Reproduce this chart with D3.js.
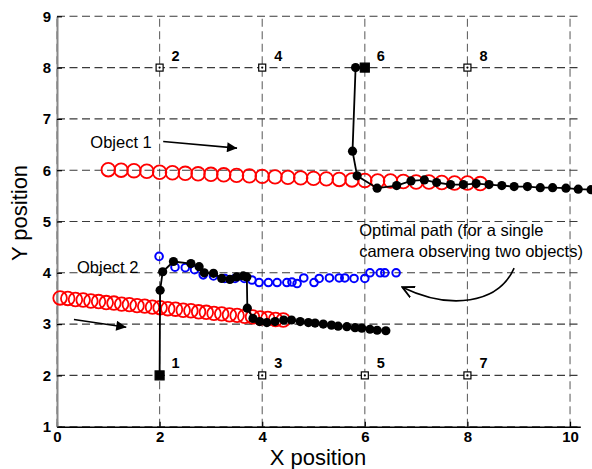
<!DOCTYPE html>
<html lang="en">

<head>
    <meta charset="UTF-8">
    <title>Camera paths</title>
    <style>
        body { margin: 0; background: #fff; }
        svg text { font-family: "Liberation Sans", Arial, sans-serif; }
        .tick text { font-weight: bold; font-size: 15px; fill: #000; }
    </style>
    <script src="https://d3js.org/d3.v7.min.js"></script>
</head>

<body>
    <script>
        // object 1 track (red, top)
        const obj1X = [1.0, 1.25, 1.5, 1.75, 2.0, 2.25, 2.5, 2.75, 3.0, 3.25, 3.5, 3.75, 4.0, 4.25, 4.5,
            4.75, 5.0, 5.25, 5.5, 5.75, 6.0, 6.25, 6.5, 6.75, 7.0, 7.25, 7.5, 7.75, 8.0, 8.25];
        const obj1Y = [6.01, 6.00, 5.99, 5.98, 5.96, 5.95, 5.94, 5.93, 5.92, 5.91, 5.90, 5.89, 5.88, 5.87, 5.86,
            5.85, 5.84, 5.83, 5.82, 5.81, 5.80, 5.79, 5.79, 5.78, 5.77, 5.77, 5.76, 5.75, 5.75, 5.74];

        // object 2 track (red, bottom)
        const obj2X = [0.06, 0.21, 0.36, 0.51, 0.66, 0.81, 0.96, 1.11, 1.26, 1.41, 1.56, 1.71, 1.86, 2.01, 2.16,
            2.31, 2.46, 2.61, 2.76, 2.91, 3.06, 3.21, 3.36, 3.51, 3.66, 3.81, 3.96, 4.11, 4.26, 4.41];
        const obj2Y = [3.51, 3.50, 3.48, 3.47, 3.45, 3.44, 3.42, 3.41, 3.39, 3.38, 3.36, 3.35, 3.33, 3.32, 3.30,
            3.29, 3.27, 3.26, 3.24, 3.23, 3.21, 3.20, 3.18, 3.17, 3.15, 3.14, 3.12, 3.11, 3.09, 3.08];

        // optimal path for one camera (blue)
        const optX = [1.99, 2.30, 2.50, 2.68, 2.85, 3.05, 3.27, 3.47, 3.65, 3.80, 3.94, 4.12, 4.29, 4.48,
            4.58, 4.68, 4.81, 5.01, 5.11, 5.31, 5.50, 5.61, 5.79, 6.00, 6.10, 6.30, 6.39, 6.61];
        const optY = [4.32, 4.11, 4.10, 4.06, 3.96, 3.94, 3.89, 3.89, 3.89, 3.86, 3.81, 3.81, 3.81, 3.81,
            3.82, 3.79, 3.90, 3.81, 3.89, 3.90, 3.90, 3.90, 3.89, 3.89, 4.00, 4.00, 4.00, 4.00];

        // path of camera 1 (black)
        const cam1X = [2.00, 2.01, 2.06, 2.27, 2.61, 2.77, 2.87, 3.05, 3.21, 3.37, 3.50, 3.63, 3.70, 3.71, 3.82,
            3.95, 4.09, 4.25, 4.42, 4.57, 4.74, 4.90, 5.03, 5.19, 5.35, 5.48, 5.65, 5.81, 5.94, 6.10, 6.24, 6.41];
        const cam1Y = [2.00, 3.66, 4.02, 4.22, 4.18, 4.12, 4.00, 3.99, 3.89, 3.87, 3.92, 3.94, 3.92, 3.31, 3.11,
            3.05, 3.03, 3.05, 3.08, 3.08, 3.05, 3.03, 3.02, 3.00, 2.98, 2.96, 2.95, 2.93, 2.92, 2.90, 2.88, 2.87];

        // path of camera 6 (black)
        const cam6X = [6.02, 5.82, 5.76, 5.85, 6.24, 6.62, 6.90, 7.16, 7.40, 7.67, 7.92, 8.17, 8.42, 8.67,
            8.91, 9.17, 9.42, 9.66, 9.92, 10.16, 10.41];
        const cam6Y = [8.00, 8.00, 6.37, 5.89, 5.65, 5.70, 5.79, 5.81, 5.76, 5.72, 5.72, 5.74, 5.72, 5.70,
            5.68, 5.68, 5.66, 5.66, 5.65, 5.63, 5.62];

        // camera positions
        const camIds = [1, 2, 3, 4, 5, 6, 7, 8];
        const camX = [2, 2, 4, 4, 6, 6, 8, 8];
        const camY = [2, 8, 2, 8, 2, 8, 2, 8];
        const activeCams = [1, 6];

        const xTicks = [0, 2, 4, 6, 8, 10];
        const yTicks = [1, 2, 3, 4, 5, 6, 7, 8, 9];

        const W = 592, H = 469;
        const pLeft = 57, pRight = 580.3, pTop = 16.3, pBottom = 426.7;

        const x = d3.scaleLinear().domain([0, 10.2]).range([pLeft, pRight]);
        const y = d3.scaleLinear().domain([1, 9]).range([pBottom, pTop]);

        const zip = (xs, ys) => xs.map((v, i) => [v, ys[i]]);

        const svg = d3.select('body').append('svg')
            .attr('width', W)
            .attr('height', H);

        const defs = svg.append('defs');
        defs.append('marker')
            .attr('id', 'solidHead')
            .attr('viewBox', '0 0 10 10')
            .attr('refX', 10).attr('refY', 5)
            .attr('markerWidth', 14).attr('markerHeight', 10)
            .attr('markerUnits', 'userSpaceOnUse')
            .attr('orient', 'auto')
            .append('path').attr('d', 'M0,0L10,5L0,10Z').attr('fill', '#000');
        defs.append('marker')
            .attr('id', 'openHead')
            .attr('viewBox', '0 0 10 10')
            .attr('refX', 9).attr('refY', 5)
            .attr('markerWidth', 13).attr('markerHeight', 13)
            .attr('markerUnits', 'userSpaceOnUse')
            .attr('orient', 'auto')
            .append('path').attr('d', 'M0,0.5L9,5L0,9.5')
            .attr('fill', 'none').attr('stroke', '#000').attr('stroke-width', 1.4);

        // grid
        const grid = svg.append('g').attr('stroke', '#3a3a3a').attr('stroke-width', 1.1)
            .attr('stroke-dasharray', '8,4.5');
        grid.selectAll('.gx').data(xTicks).enter().append('line')
            .attr('x1', d => x(d)).attr('x2', d => x(d))
            .attr('y1', pBottom).attr('y2', pTop)
            .attr('stroke', '#666');
        grid.selectAll('.gy').data(yTicks).enter().append('line')
            .attr('x1', pLeft).attr('x2', pRight)
            .attr('y1', d => y(d)).attr('y2', d => y(d));

        // axes
        const xAxis = d3.axisBottom(x).tickValues(xTicks).tickSizeInner(-5).tickSizeOuter(0).tickPadding(5);
        const yAxis = d3.axisLeft(y).tickValues(yTicks).tickSizeInner(-5).tickSizeOuter(0).tickPadding(6);

        const gx = svg.append('g').attr('transform', `translate(0,${pBottom})`).call(xAxis);
        gx.select('.domain').attr('stroke', '#000').attr('stroke-width', 1.4);
        const gy = svg.append('g').attr('transform', `translate(${pLeft},0)`).call(yAxis);
        gy.select('.domain').attr('stroke', '#888').attr('stroke-width', 2);
        svg.selectAll('.tick line').attr('stroke', '#000').attr('stroke-width', 1.2);

        // object tracks
        svg.append('g').selectAll('circle').data(zip(obj1X, obj1Y).concat(zip(obj2X, obj2Y)))
            .enter().append('circle')
            .attr('cx', d => x(d[0])).attr('cy', d => y(d[1])).attr('r', 6.8)
            .attr('fill', 'none').attr('stroke', '#ff0000').attr('stroke-width', 1.8);

        svg.append('g').selectAll('circle').data(zip(optX, optY))
            .enter().append('circle')
            .attr('cx', d => x(d[0])).attr('cy', d => y(d[1])).attr('r', 3.8)
            .attr('fill', 'none').attr('stroke', '#0000ff').attr('stroke-width', 2);

        // camera paths
        const line = d3.line().x(d => x(d[0])).y(d => y(d[1]));
        [zip(cam1X, cam1Y), zip(cam6X, cam6Y)].forEach(pts => {
            svg.append('path').attr('d', line(pts))
                .attr('fill', 'none').attr('stroke', '#000').attr('stroke-width', 1.8);
            svg.append('g').selectAll('circle').data(pts.slice(1))
                .enter().append('circle')
                .attr('cx', d => x(d[0])).attr('cy', d => y(d[1])).attr('r', 4.6)
                .attr('fill', '#000');
        });

        // cameras
        const cams = camIds.map((id, i) => ({ id, x: camX[i], y: camY[i], on: activeCams.includes(id) }));
        const cg = svg.append('g');
        cg.selectAll('rect').data(cams).enter().append('rect')
            .attr('x', d => x(d.x) - (d.on ? 4.5 : 3.5))
            .attr('y', d => y(d.y) - (d.on ? 4.5 : 3.5))
            .attr('width', d => d.on ? 9 : 7).attr('height', d => d.on ? 9 : 7)
            .attr('fill', d => d.on ? '#000' : '#fff')
            .attr('stroke', '#000').attr('stroke-width', 1.2);
        cg.selectAll('circle').data(cams.filter(d => !d.on)).enter().append('circle')
            .attr('cx', d => x(d.x)).attr('cy', d => y(d.y)).attr('r', 1.1).attr('fill', '#000');
        cg.selectAll('text').data(cams).enter().append('text')
            .attr('x', d => x(d.x) + 12).attr('y', d => y(d.y) - 7)
            .attr('font-size', 14.5).attr('font-weight', 'bold')
            .text(d => d.id);

        // annotations
        const note = svg.append('g').attr('font-size', 16.5).attr('fill', '#000');
        note.append('text').attr('x', x(0.65)).attr('y', y(6.43)).text('Object 1');
        note.append('text').attr('x', x(0.39)).attr('y', y(3.99)).text('Object 2');
        note.append('text').attr('x', x(5.89)).attr('y', y(4.71)).text('Optimal path (for a single');
        note.append('text').attr('x', x(5.89)).attr('y', y(4.31)).text('camera observing two objects)');

        svg.append('line')
            .attr('x1', x(2.07)).attr('y1', y(6.56)).attr('x2', x(3.51)).attr('y2', y(6.43))
            .attr('stroke', '#000').attr('stroke-width', 1.6).attr('marker-end', 'url(#solidHead)');
        svg.append('line')
            .attr('x1', x(0.33)).attr('y1', y(3.09)).attr('x2', x(1.35)).attr('y2', y(2.94))
            .attr('stroke', '#000').attr('stroke-width', 1.6).attr('marker-end', 'url(#solidHead)');

        const curve = d3.path();
        curve.moveTo(x(8.91), y(4.09));
        curve.bezierCurveTo(x(8.60), y(3.39), x(7.66), y(3.27), x(6.73), y(3.72));
        svg.append('path').attr('d', curve.toString())
            .attr('fill', 'none').attr('stroke', '#000').attr('stroke-width', 1.6)
            .attr('marker-end', 'url(#openHead)');

        // axis titles
        svg.append('text').attr('x', 318).attr('y', 465).attr('text-anchor', 'middle')
            .attr('font-size', 22).text('X position');
        svg.append('text').attr('transform', 'translate(27,213) rotate(-90)').attr('text-anchor', 'middle')
            .attr('font-size', 22).text('Y position');
    </script>
</body>

</html>
